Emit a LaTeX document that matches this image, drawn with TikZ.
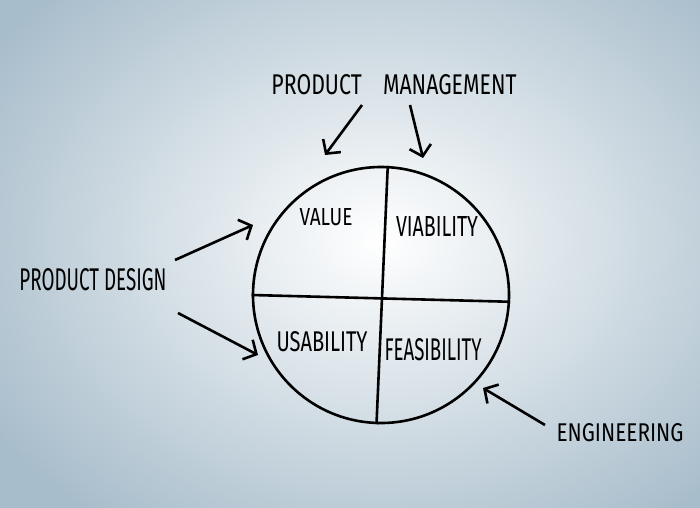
\documentclass[tikz,border=0pt]{standalone}
\usepackage{fontspec}
\setmainfont{Fira Sans}
\usetikzlibrary{%
  arrows.meta%
}
\definecolor{bgblue}{RGB}{168,189,203}
\newcommand{\hand}[3]{\resizebox{#1pt}{#2pt}{#3}}

\begin{document}
\begin{tikzpicture}[x=1pt,y=-1pt,line width=2.6pt,
  >={Straight Barb[length=10pt,width=22pt]},
  lbl/.style={inner sep=0pt,anchor=center}]
\useasboundingbox (0,0) rectangle (700,507);
\begin{scope}
\clip (0,0) rectangle (700,507);
\shade[inner color=white,outer color=bgblue] (-80,-110) rectangle (840,590);
\end{scope}

% the wheel and its four parts
\node[draw,circle,minimum size=256pt,inner sep=0pt] (wheel) at (381,295) {};
\draw (wheel.87) -- (wheel.268)
      (wheel.180) -- (wheel.357);
\node[lbl] (value) at (326,217) {\hand{53}{17}{VALUE}};
\node[lbl] (viab) at (437,226) {\hand{82}{20}{VIABILITY}};
\node[lbl] (usab) at (322,342) {\hand{91}{20}{USABILITY}};
\node[lbl] (feas) at (433,350) {\hand{97}{22}{FEASIBILITY}};

% who owns what
\node[lbl] (pm) at (394,85) {\hand{245}{20}{PRODUCT\quad MANAGEMENT}};
\node[lbl] (pd) at (93,280) {\hand{147}{22}{PRODUCT DESIGN}};
\node[lbl] (eng) at (620,433) {\hand{127}{18}{ENGINEERING}};

\coordinate (pm1) at (362,105);
\coordinate (pm2) at (410,105);
\coordinate (pd1) at (175,260);
\coordinate (pd2) at (178,313);
\coordinate (eng1) at (545,425);
\coordinate (to-value) at (325,155);
\coordinate (to-viab) at (423,158);
\coordinate (to-value') at (253,225);
\coordinate (to-usab) at (258,355);
\coordinate (to-feas) at (483,388);

\draw (pm1) edge[->] (to-value)
      (pm2) edge[->] (to-viab)
      (pd1) edge[->] (to-value')
      (pd2) edge[->] (to-usab)
      (eng1) edge[->] (to-feas);
\end{tikzpicture}
\end{document}
